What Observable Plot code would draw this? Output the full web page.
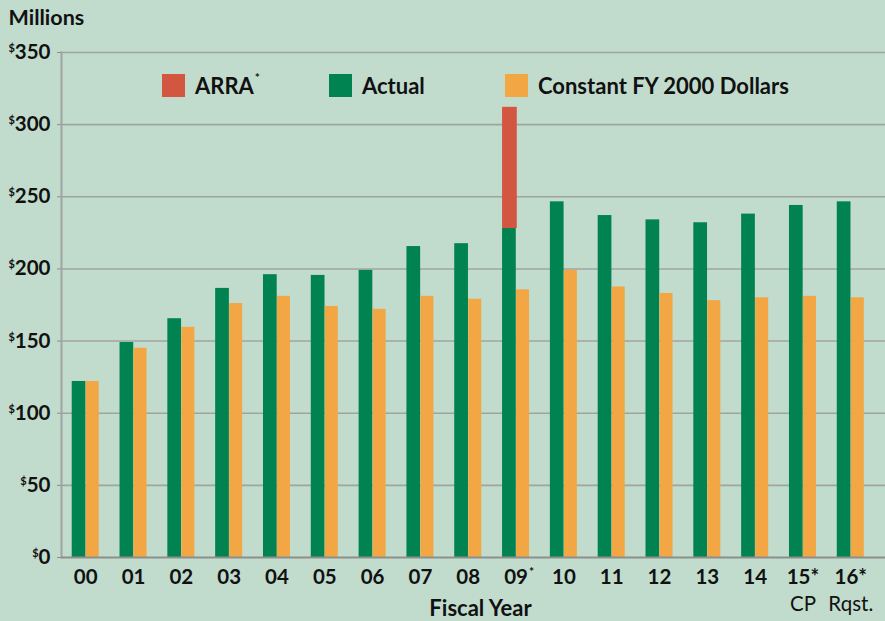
<!DOCTYPE html>
<html>
<head>
<meta charset="utf-8">
<script src="https://cdn.jsdelivr.net/npm/d3@7"></script>
<script src="https://cdn.jsdelivr.net/npm/@observablehq/plot@0.6"></script>
<style>
  html, body { margin: 0; padding: 0; background: #c1dccd; }
  #wrap { position: relative; width: 885px; height: 621px; overflow: hidden; background: #c1dccd; font-family: Lato, "Open Sans", sans-serif; }
  .leg { position: absolute; top: 74px; height: 23px; display: flex; align-items: center; font-weight: 700; font-size: 22px; color: #111; white-space: nowrap; }
  .sw { width: 23px; height: 23px; margin-right: 10px; flex: none; }
  .sup { font-size: 12px; position: relative; top: -8px; margin-left: 1px; }
</style>
</head>
<body>
<div id="wrap">
  <div id="chart"></div>
</div>
<script>
const years = ["00","01","02","03","04","05","06","07","08","09","10","11","12","13","14","15","16"];
const xLabels = ["00","01","02","03","04","05","06","07","08","09*","10","11","12","13","14","15*\nCP","16*\nRqst."];
const actual = [122,149,165.5,186.5,196,195.5,199,215.5,217.5,228,246.5,237,234,232,238,244,246.5];
const constantFY2000 = [122,145,159.5,176,181,174,172,181,179,185.5,199,187.5,183,178,180,181,180];
const arraYears = ["09"];
const arraAmount = [84];
const yTicks = [0,50,100,150,200,250,300,350];
const seriesNames = ["ARRA", "Actual", "Constant FY 2000 Dollars"];
const seriesColors = ["#d35641", "#008350", "#f2a744"];

const actualData = years.map((y, i) => ({year: y, value: actual[i]}));
const constData = years.map((y, i) => ({year: y, value: constantFY2000[i]}));
const arraData = arraYears.map((y, i) => ({year: y, base: actual[years.indexOf(y)], top: actual[years.indexOf(y)] + arraAmount[i]}));

const chart = Plot.plot({
  width: 885,
  height: 621,
  marginLeft: 61,
  marginRight: 0,
  marginTop: 52,
  marginBottom: 64,
  style: {fontFamily: "Lato, 'Open Sans', sans-serif", fontSize: "20px", fontWeight: 700, background: "transparent", color: "#111"},
  x: {type: "band", domain: years, range: [61, 874.5], paddingInner: 0.435, paddingOuter: 0.224, round: false, label: null},
  y: {domain: [0, 350], label: null},
  marks: [
    Plot.ruleY(yTicks.filter(d => d > 0), {y: d => d, stroke: "#a0a4a1", strokeWidth: 1.6}),
    Plot.barY(actualData, {x: "year", y: "value", fill: seriesColors[1], insetRight: 13.3}),
    Plot.barY(constData, {x: "year", y: "value", fill: seriesColors[2], insetLeft: 14}),
    Plot.barY(arraData, {x: "year", y1: "base", y2: "top", fill: seriesColors[0], insetRight: 12.3}),
    Plot.frame({anchor: "left", stroke: "#a0a4a1", strokeWidth: 2}),
    Plot.ruleY([0], {stroke: "#8c8f8d", strokeWidth: 2}),
    Plot.axisY({ticks: yTicks, tickSize: 4, tickPadding: 7, stroke: "#8c8f8d", fill: "#111", fontSize: 20.5, tickFormat: d => "$" + d}),
    Plot.axisX({tickSize: 0, tickPadding: 8, fill: "#111", fontSize: 20.5, lineHeight: 1.3, tickFormat: (d, i) => xLabels[years.indexOf(d)]}),
    Plot.text(["Fiscal Year"], {frameAnchor: "bottom", lineAnchor: "middle", dx: 7, dy: 51, text: d => d, fill: "#111", fontSize: 22, fontWeight: 700}),
    Plot.text(["Millions"], {frameAnchor: "top-left", lineAnchor: "middle", textAnchor: "start", dx: -53, dy: -34, text: d => d, fill: "#111", fontSize: 21.5, fontWeight: 700})
  ]
});
document.getElementById("chart").appendChild(chart);

// superscript dollar signs on y tick labels
d3.select(chart).selectAll('g[aria-label="y-axis tick label"] text').each(function() {
  const t = this.textContent;
  const sel = d3.select(this);
  sel.text(null);
  sel.append("tspan").attr("font-size", 11).attr("dy", -7).text(t.slice(0, 1));
  sel.append("tspan").attr("dy", 7).text(t.slice(1));
});

// x tick labels: second line regular, small superscript asterisk on 09
d3.select(chart).selectAll('g[aria-label="x-axis tick label"] text').each(function() {
  const sel = d3.select(this);
  const tspans = sel.selectAll("tspan");
  if (tspans.size() > 1) {
    d3.select(tspans.nodes()[1]).attr("font-weight", 400);
  }
  if (this.textContent === "09*") {
    sel.text(null);
    sel.attr("dx", 3);
    sel.append("tspan").text("09");
    sel.append("tspan").attr("font-size", 12).attr("dy", -8).attr("dx", 1).text("*");
  }
});

// legend
const wrap = document.getElementById("wrap");
const legendLefts = [162, 329, 505];
seriesNames.forEach((name, i) => {
  const item = document.createElement("div");
  item.className = "leg";
  item.style.left = legendLefts[i] + "px";
  const sw = document.createElement("div");
  sw.className = "sw";
  sw.style.background = seriesColors[i];
  item.appendChild(sw);
  const label = document.createElement("span");
  label.textContent = name;
  item.appendChild(label);
  if (name === "ARRA") {
    const s = document.createElement("span");
    s.className = "sup";
    s.textContent = "*";
    item.appendChild(s);
  }
  wrap.appendChild(item);
});
</script>
</body>
</html>
